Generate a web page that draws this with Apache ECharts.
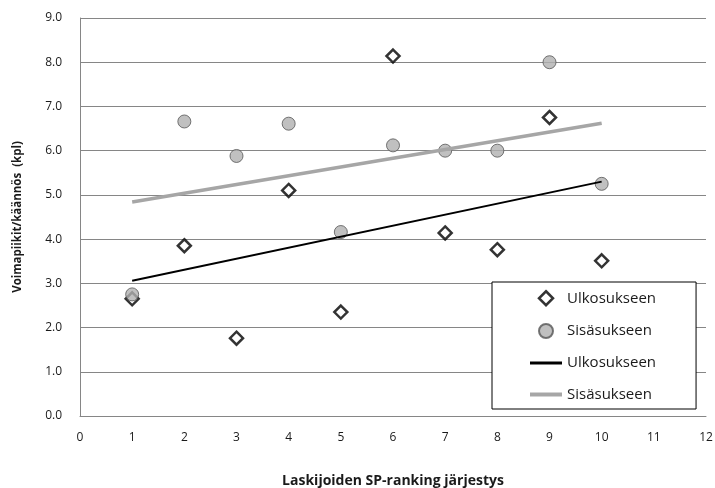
<!DOCTYPE html>
<html>
<head>
<meta charset="utf-8">
<script src="https://cdn.jsdelivr.net/npm/echarts@6/dist/echarts.min.js"></script>
<style>
html,body{margin:0;padding:0;background:#fff;}
#chart{width:715px;height:488px;}
</style>
</head>
<body>
<div id="chart"></div>
<script>
var ranks = [1, 2, 3, 4, 5, 6, 7, 8, 9, 10];
var ulkoValues = [2.65, 3.85, 1.76, 5.10, 2.35, 8.14, 4.14, 3.76, 6.75, 3.51];
var sisaValues = [2.75, 6.66, 5.88, 6.61, 4.16, 6.12, 6.00, 6.00, 8.00, 5.25];
var trendX = [1, 10];
var ulkoTrend = [3.06, 5.30];
var sisaTrend = [4.84, 6.62];
var xTicks = [0, 1, 2, 3, 4, 5, 6, 7, 8, 9, 10, 11, 12];
var yTicks = [0, 1, 2, 3, 4, 5, 6, 7, 8, 9];
var seriesNames = ['Ulkosukseen', 'Sisäsukseen', 'Ulkosukseen ', 'Sisäsukseen '];
var xTitle = 'Laskijoiden SP-ranking järjestys';
var yTitle = 'Voimapiikit/käännös  (kpl)';

function pairs(xs, ys) { return xs.map(function (x, i) { return [x, ys[i]]; }); }

var font = '"Open Sans", "Noto Sans", sans-serif';
var chart = echarts.init(document.getElementById('chart'), null, { renderer: 'canvas' });
chart.setOption({
  animation: false,
  backgroundColor: '#fff',
  grid: { left: 80, right: 9, top: 18, bottom: 72, containLabel: false, outerBoundsMode: 'none' },
  xAxis: {
    type: 'value', min: xTicks[0], max: xTicks[xTicks.length - 1], interval: 1,
    name: xTitle, nameLocation: 'middle', nameGap: 58,
    nameTextStyle: { fontFamily: font, fontWeight: 'bold', fontSize: 14, color: '#1a1a1a' },
    axisLine: { show: true, lineStyle: { color: '#868686', width: 1 } },
    axisTick: { show: false },
    splitLine: { show: false },
    axisLabel: { fontFamily: font, fontSize: 12, color: '#1a1a1a', margin: 16 }
  },
  yAxis: {
    type: 'value', min: yTicks[0], max: yTicks[yTicks.length - 1], interval: 1,
    name: yTitle, nameLocation: 'middle', nameGap: 56, nameRotate: 90,
    nameTextStyle: { fontFamily: font, fontWeight: 'bold', fontSize: 11.5, color: '#1a1a1a' },
    axisLine: { show: true, lineStyle: { color: '#868686', width: 1 } },
    axisTick: { show: false },
    splitLine: { show: true, lineStyle: { color: '#868686', width: 1 } },
    axisLabel: { fontFamily: font, fontSize: 12, color: '#1a1a1a', margin: 18,
      formatter: function (v) { return v.toFixed(1); } }
  },
  legend: {
    orient: 'vertical', left: 492, top: 282,
    padding: [8, 40, 7, 38],
    itemGap: 16.5, itemWidth: 32, itemHeight: 14,
    symbolKeepAspect: true,
    backgroundColor: '#fff', borderColor: '#000', borderWidth: 1, borderRadius: 0,
    textStyle: { fontFamily: font, fontSize: 15, lineHeight: 14, color: '#1a1a1a', padding: [0, 0, 0, 0] },
    formatter: function (n) { return n.trim(); },
    data: [
      { name: seriesNames[0], icon: 'path://M0,-10L10,0L0,10L-10,0Z', itemStyle: { borderWidth: 2.5 } },
      { name: seriesNames[1], icon: 'path://M0,-10A10,10 0 1,1 0,10A10,10 0 1,1 0,-10Z' },
      { name: seriesNames[2], icon: 'path://M0,0H32V3H0Z', itemStyle: { color: '#000', borderWidth: 0 } },
      { name: seriesNames[3], icon: 'path://M0,0H32V4H0Z', itemStyle: { color: '#a6a6a6', borderWidth: 0 } }
    ]
  },
  series: [
    {
      name: seriesNames[0], type: 'scatter', data: pairs(ranks, ulkoValues),
      symbol: 'diamond', symbolSize: 13, z: 3,
      itemStyle: { color: '#fff', borderColor: '#000', borderWidth: 2.5 }
    },
    {
      name: seriesNames[1], type: 'scatter', data: pairs(ranks, sisaValues),
      symbol: 'circle', symbolSize: 13, z: 4,
      itemStyle: { color: '#b0b0b0', borderColor: '#555', borderWidth: 1 }
    },
    {
      name: seriesNames[2], type: 'line', data: pairs(trendX, ulkoTrend),
      symbol: 'none', z: 5, silent: true,
      lineStyle: { color: '#000', width: 2 }, itemStyle: { color: '#000' }
    },
    {
      name: seriesNames[3], type: 'line', data: pairs(trendX, sisaTrend),
      symbol: 'none', z: 5, silent: true,
      lineStyle: { color: '#a6a6a6', width: 3.5 }, itemStyle: { color: '#a6a6a6' }
    }
  ]
});
</script>
</body>
</html>
